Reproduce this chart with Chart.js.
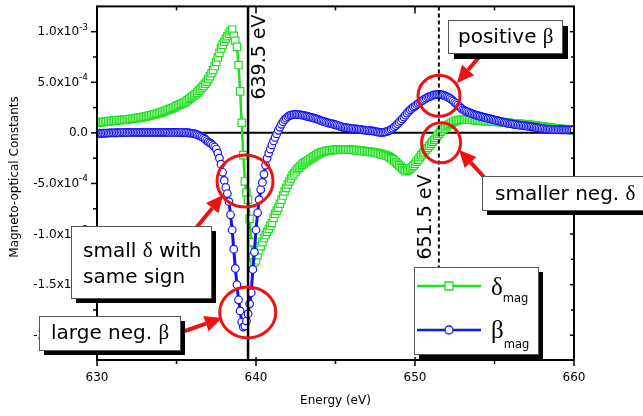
<!DOCTYPE html>
<html>
<head>
<meta charset="utf-8">
<script src="https://cdn.jsdelivr.net/npm/chart.js@4.4.1/dist/chart.umd.min.js"></script>
<style>
  html, body { margin: 0; padding: 0; background: #fff; }
  canvas { display: block; }
</style>
</head>
<body>
<canvas id="moChart" width="643" height="416"></canvas>
<script>
// photon energy (eV)
const energy = [
  630.0,630.1,630.2,630.3,630.4,630.5,630.6,630.7,630.8,630.9,
  631.0,631.1,631.2,631.3,631.4,631.5,631.6,631.7,631.8,631.9,
  632.0,632.1,632.2,632.3,632.4,632.5,632.6,632.7,632.8,632.9,
  633.0,633.1,633.2,633.3,633.4,633.5,633.6,633.7,633.8,633.9,
  634.0,634.1,634.2,634.3,634.4,634.5,634.6,634.7,634.8,634.9,
  635.0,635.1,635.2,635.3,635.4,635.5,635.6,635.7,635.8,635.9,
  636.0,636.1,636.2,636.3,636.4,636.5,636.6,636.7,636.8,636.9,
  637.0,637.1,637.2,637.3,637.4,637.5,637.6,637.7,637.8,637.9,
  638.0,638.1,638.2,638.3,638.4,638.5,638.6,638.7,638.8,638.9,
  639.0,639.1,639.2,639.3,639.4,639.5,639.6,639.7,639.8,639.9,
  640.0,640.1,640.2,640.3,640.4,640.5,640.6,640.7,640.8,640.9,
  641.0,641.1,641.2,641.3,641.4,641.5,641.6,641.7,641.8,641.9,
  642.0,642.1,642.2,642.3,642.4,642.5,642.6,642.7,642.8,642.9,
  643.0,643.1,643.2,643.3,643.4,643.5,643.6,643.7,643.8,643.9,
  644.0,644.1,644.2,644.3,644.4,644.5,644.6,644.7,644.8,644.9,
  645.0,645.1,645.2,645.3,645.4,645.5,645.6,645.7,645.8,645.9,
  646.0,646.1,646.2,646.3,646.4,646.5,646.6,646.7,646.8,646.9,
  647.0,647.1,647.2,647.3,647.4,647.5,647.6,647.7,647.8,647.9,
  648.0,648.1,648.2,648.3,648.4,648.5,648.6,648.7,648.8,648.9,
  649.0,649.1,649.2,649.3,649.4,649.5,649.6,649.7,649.8,649.9,
  650.0,650.1,650.2,650.3,650.4,650.5,650.6,650.7,650.8,650.9,
  651.0,651.1,651.2,651.3,651.4,651.5,651.6,651.7,651.8,651.9,
  652.0,652.1,652.2,652.3,652.4,652.5,652.6,652.7,652.8,652.9,
  653.0,653.1,653.2,653.3,653.4,653.5,653.6,653.7,653.8,653.9,
  654.0,654.1,654.2,654.3,654.4,654.5,654.6,654.7,654.8,654.9,
  655.0,655.1,655.2,655.3,655.4,655.5,655.6,655.7,655.8,655.9,
  656.0,656.1,656.2,656.3,656.4,656.5,656.6,656.7,656.8,656.9,
  657.0,657.1,657.2,657.3,657.4,657.5,657.6,657.7,657.8,657.9,
  658.0,658.1,658.2,658.3,658.4,658.5,658.6,658.7,658.8,658.9,
  659.0,659.1,659.2,659.3,659.4,659.5,659.6,659.7,659.8,659.9,
  660.0
];

// delta_mag in units of 1e-4
const deltaMag = [
  1.00,1.02,1.04,1.06,1.08,1.10,1.12,1.14,1.16,1.18,
  1.20,1.21,1.23,1.24,1.26,1.27,1.29,1.30,1.32,1.33,
  1.35,1.37,1.39,1.41,1.44,1.46,1.48,1.50,1.53,1.56,
  1.60,1.63,1.67,1.71,1.75,1.79,1.83,1.87,1.91,1.95,
  2.00,2.06,2.12,2.18,2.24,2.30,2.36,2.42,2.48,2.56,
  2.65,2.72,2.79,2.86,2.93,3.00,3.10,3.22,3.35,3.48,
  3.60,3.70,3.82,3.98,4.15,4.32,4.48,4.65,4.85,5.05,
  5.30,5.60,5.90,6.20,6.60,7.00,7.45,7.90,8.35,8.70,
  9.00,9.30,9.55,9.80,10.05,10.20,9.60,9.10,8.50,6.70,
  4.10,1.00,-2.20,-4.80,-5.90,-6.60,-8.50,-10.80,-12.30,-12.80,
  -12.60,-12.10,-11.60,-11.20,-10.80,-10.40,-10.10,-9.80,-9.50,-9.20,
  -8.90,-8.40,-8.00,-7.70,-7.40,-7.00,-6.60,-6.20,-5.80,-5.45,
  -5.10,-4.80,-4.50,-4.20,-4.00,-3.80,-3.60,-3.45,-3.30,-3.15,
  -3.00,-2.90,-2.80,-2.70,-2.60,-2.50,-2.40,-2.30,-2.20,-2.10,
  -2.00,-1.95,-1.90,-1.85,-1.80,-1.77,-1.75,-1.72,-1.70,-1.68,
  -1.67,-1.66,-1.65,-1.65,-1.64,-1.64,-1.64,-1.65,-1.65,-1.66,
  -1.67,-1.68,-1.69,-1.70,-1.72,-1.74,-1.76,-1.78,-1.80,-1.82,
  -1.84,-1.86,-1.88,-1.90,-1.92,-1.95,-1.98,-2.02,-2.06,-2.10,
  -2.14,-2.19,-2.25,-2.32,-2.40,-2.50,-2.62,-2.75,-2.90,-3.05,
  -3.20,-3.35,-3.50,-3.65,-3.78,-3.75,-3.65,-3.52,-3.40,-3.25,
  -3.05,-2.85,-2.65,-2.40,-2.20,-2.00,-1.85,-1.65,-1.50,-1.30,
  -1.10,-0.90,-0.70,-0.50,-0.30,-0.10,0.10,0.25,0.40,0.55,
  0.65,0.77,0.88,0.98,1.08,1.15,1.20,1.24,1.27,1.29,
  1.30,1.31,1.31,1.31,1.30,1.29,1.28,1.27,1.26,1.25,
  1.24,1.22,1.20,1.18,1.16,1.15,1.14,1.13,1.12,1.11,
  1.10,1.09,1.08,1.07,1.06,1.05,1.04,1.03,1.01,1.00,
  0.96,0.95,0.94,0.93,0.92,0.90,0.89,0.88,0.86,0.85,
  0.83,0.81,0.79,0.77,0.75,0.73,0.71,0.69,0.67,0.65,
  0.63,0.61,0.59,0.56,0.54,0.52,0.50,0.48,0.46,0.44,
  0.42,0.40,0.39,0.37,0.36,0.34,0.32,0.30,0.28,0.26,
  0.25
];

// beta_mag in units of 1e-4
const betaMag = [
  -0.10,-0.08,-0.06,-0.05,-0.04,-0.03,-0.02,-0.02,-0.01,-0.01,
  0.00,0.00,0.01,0.01,0.02,0.02,0.03,0.03,0.03,0.04,
  0.04,0.04,0.05,0.05,0.05,0.05,0.05,0.05,0.05,0.05,
  0.05,0.05,0.05,0.05,0.05,0.05,0.05,0.05,0.05,0.05,
  0.05,0.05,0.05,0.05,0.05,0.04,0.04,0.04,0.04,0.04,
  0.04,0.04,0.03,0.03,0.03,0.03,0.02,0.01,0.00,-0.02,
  -0.05,-0.08,-0.12,-0.18,-0.25,-0.32,-0.40,-0.50,-0.62,-0.76,
  -0.90,-1.00,-1.10,-1.25,-1.40,-1.60,-2.00,-2.50,-3.10,-3.90,
  -4.70,-5.40,-6.00,-6.80,-8.10,-9.60,-11.50,-13.40,-15.00,-16.50,
  -17.60,-18.70,-19.20,-19.10,-18.60,-17.90,-16.90,-15.80,-13.50,-11.80,
  -9.60,-7.90,-6.60,-5.60,-4.90,-4.10,-3.20,-2.50,-2.00,-1.60,
  -1.20,-0.80,-0.45,-0.10,0.25,0.55,0.85,1.10,1.30,1.45,
  1.60,1.70,1.76,1.80,1.82,1.82,1.81,1.80,1.78,1.75,
  1.72,1.68,1.64,1.60,1.56,1.52,1.48,1.43,1.38,1.32,
  1.25,1.20,1.15,1.10,1.05,1.00,0.96,0.92,0.88,0.85,
  0.80,0.75,0.70,0.65,0.60,0.55,0.52,0.50,0.48,0.45,
  0.42,0.40,0.38,0.38,0.37,0.35,0.33,0.30,0.28,0.26,
  0.25,0.23,0.22,0.20,0.17,0.14,0.10,0.07,0.05,0.04,
  0.05,0.08,0.12,0.18,0.25,0.35,0.45,0.58,0.72,0.88,
  1.05,1.20,1.38,1.56,1.75,1.95,2.12,2.28,2.42,2.55,
  2.65,2.78,2.90,3.02,3.13,3.23,3.33,3.43,3.52,3.58,
  3.64,3.70,3.75,3.78,3.80,3.80,3.79,3.76,3.72,3.66,
  3.58,3.50,3.40,3.28,3.15,3.02,2.90,2.75,2.60,2.45,
  2.30,2.22,2.15,2.08,2.01,1.95,1.89,1.83,1.78,1.73,
  1.68,1.64,1.60,1.56,1.52,1.48,1.44,1.40,1.36,1.32,
  1.28,1.24,1.20,1.16,1.12,1.08,1.04,1.00,0.97,0.94,
  0.91,0.88,0.85,0.82,0.80,0.78,0.76,0.74,0.72,0.70,
  0.68,0.66,0.64,0.62,0.60,0.57,0.54,0.51,0.48,0.45,
  0.42,0.40,0.38,0.36,0.35,0.34,0.33,0.32,0.32,0.31,
  0.31,0.31,0.30,0.30,0.30,0.30,0.30,0.30,0.30,0.30,
  0.30
];

// axis ticks (y in units of 1e-4)
const xMajor = [630, 640, 650, 660];
const xMinor = [635, 645, 655];
const yMajor = [10, 5, 0, -5, -10, -15, -20];
const yMinor = [7.5, 2.5, -2.5, -7.5, -12.5, -17.5];
const yMantissa = ['1.0x10', '5.0x10', '0.0', '-5.0x10', '-1.0x10', '-1.5x10', '-2.0x10'];
const yExponent = ['-3', '-4', '', '-4', '-3', '-3', '-3'];

// absorption edge markers (eV)
const edgeSolid = 639.5;
const edgeDashed = 651.5;

const SANS = '"DejaVu Sans", Verdana, sans-serif';
const SERIF = '"Liberation Serif", "DejaVu Serif", serif';
const RED = '#ee1111';
const GREEN = '#1fe01f';
const BLUE = '#1414f0';

function toPoints(ys) {
  return energy.map((e, i) => ({ x: e, y: ys[i] }));
}

// draw text pieces one after another, each with its own font / vertical shift
function textRuns(ctx, x, y, parts) {
  parts.forEach(p => {
    ctx.font = p.font;
    ctx.fillText(p.text, x, y + (p.dy || 0));
    x += ctx.measureText(p.text).width;
  });
}

function shadowBox(ctx, x, y, w, h, off) {
  ctx.fillStyle = '#000';
  ctx.fillRect(x + off, y + off, w, h);
  ctx.fillStyle = '#fff';
  ctx.fillRect(x, y, w, h);
  ctx.strokeStyle = '#555';
  ctx.lineWidth = 1;
  ctx.strokeRect(x + 0.5, y + 0.5, w, h);
}

function arrow(ctx, x0, y0, x1, y1) {
  const a = Math.atan2(y1 - y0, x1 - x0);
  const head = 17, half = 8;
  const bx = x1 - head * Math.cos(a), by = y1 - head * Math.sin(a);
  ctx.strokeStyle = RED;
  ctx.lineWidth = 4;
  ctx.beginPath();
  ctx.moveTo(x0, y0);
  ctx.lineTo(bx, by);
  ctx.stroke();
  ctx.fillStyle = RED;
  ctx.beginPath();
  ctx.moveTo(x1, y1);
  ctx.lineTo(bx + half * Math.sin(a), by - half * Math.cos(a));
  ctx.lineTo(bx - half * Math.sin(a), by + half * Math.cos(a));
  ctx.closePath();
  ctx.fill();
}

function ring(ctx, cx, cy, rx, ry) {
  ctx.strokeStyle = RED;
  ctx.lineWidth = 3;
  ctx.beginPath();
  ctx.ellipse(cx, cy, rx, ry, 0, 0, 2 * Math.PI);
  ctx.stroke();
}

const decorations = {
  id: 'decorations',
  beforeDatasetsDraw(chart) {
    const { ctx, chartArea: a, scales: { y } } = chart;
    const y0 = y.getPixelForValue(0);
    ctx.save();
    ctx.strokeStyle = '#000';
    ctx.lineWidth = 2;
    ctx.beginPath();
    ctx.moveTo(a.left, y0);
    ctx.lineTo(a.right, y0);
    ctx.stroke();
    ctx.restore();
  },
  afterDatasetsDraw(chart) {
    const { ctx, chartArea: a, scales: { x, y } } = chart;
    ctx.save();
    ctx.strokeStyle = '#000';

    // edge lines
    ctx.lineWidth = 2.5;
    let xe = x.getPixelForValue(edgeSolid);
    ctx.beginPath(); ctx.moveTo(xe, a.top); ctx.lineTo(xe, a.bottom); ctx.stroke();
    ctx.lineWidth = 2;
    ctx.setLineDash([4, 3]);
    xe = x.getPixelForValue(edgeDashed);
    ctx.beginPath(); ctx.moveTo(xe, a.top); ctx.lineTo(xe, a.bottom); ctx.stroke();
    ctx.setLineDash([]);

    // frame
    ctx.lineWidth = 2;
    ctx.strokeRect(a.left, a.top, a.right - a.left, a.bottom - a.top);

    // ticks
    ctx.lineWidth = 1.5;
    const tick = (x0, y0, x1, y1) => { ctx.beginPath(); ctx.moveTo(x0, y0); ctx.lineTo(x1, y1); ctx.stroke(); };
    xMajor.forEach(v => {
      const p = x.getPixelForValue(v);
      tick(p, a.bottom - 3, p, a.bottom + 6);
      tick(p, a.top, p, a.top + 7);
    });
    xMinor.forEach(v => {
      const p = x.getPixelForValue(v);
      tick(p, a.bottom, p, a.bottom + 4);
      tick(p, a.top, p, a.top + 4);
    });
    yMajor.forEach(v => {
      const p = y.getPixelForValue(v);
      tick(a.left - 6, p, a.left, p);
      tick(a.right - 4, p, a.right, p);
    });
    yMinor.forEach(v => {
      const p = y.getPixelForValue(v);
      tick(a.left - 4, p, a.left, p);
      tick(a.right - 3, p, a.right, p);
    });
    ctx.restore();
  },
  afterDraw(chart) {
    const { ctx, chartArea: a, scales: { x, y } } = chart;
    ctx.save();
    ctx.fillStyle = '#000';

    // tick labels
    ctx.textBaseline = 'middle';
    ctx.textAlign = 'center';
    ctx.font = '12px ' + SANS;
    xMajor.forEach(v => ctx.fillText(String(v), x.getPixelForValue(v), a.bottom + 18));
    yMajor.forEach((v, i) => {
      const p = y.getPixelForValue(v) + 0.5;
      const right = a.left - 9;
      ctx.font = '9px ' + SANS;
      const ew = yExponent[i] ? ctx.measureText(yExponent[i]).width : 0;
      ctx.textAlign = 'left';
      if (ew) ctx.fillText(yExponent[i], right - ew, p - 5);
      ctx.font = '12px ' + SANS;
      ctx.textAlign = 'right';
      ctx.fillText(yMantissa[i], right - ew, p);
    });

    // axis titles
    ctx.textAlign = 'center';
    ctx.font = '12px ' + SANS;
    ctx.fillText('Energy (eV)', (a.left + a.right) / 2, 401);
    ctx.save();
    ctx.translate(15, 177);
    ctx.rotate(-Math.PI / 2);
    ctx.fillText('Magneto-optical Constants', 0, 0);
    ctx.restore();

    // edge energy labels
    ctx.font = '19px ' + SANS;
    [[edgeSolid, 12, 57], [edgeDashed, -13, 217]].forEach(([e, dx, cy]) => {
      ctx.save();
      ctx.translate(x.getPixelForValue(e) + dx, cy);
      ctx.rotate(-Math.PI / 2);
      ctx.fillText(e.toFixed(1) + ' eV', 0, 0);
      ctx.restore();
    });

    // highlight rings
    ring(ctx, x.getPixelForValue(639.31), y.getPixelForValue(-4.75), 28, 26);
    ring(ctx, x.getPixelForValue(639.48), y.getPixelForValue(-17.75), 28, 25.5);
    ring(ctx, x.getPixelForValue(651.51), y.getPixelForValue(3.66), 21, 20.5);
    ring(ctx, x.getPixelForValue(651.64), y.getPixelForValue(-0.98), 19.5, 20);

    // arrows
    arrow(ctx, 480, 56, 457, 83);
    arrow(ctx, 484, 177, 459, 150);
    arrow(ctx, 196, 228, 223, 195);
    arrow(ctx, 182, 332, 222, 318);

    // callout boxes
    ctx.textAlign = 'left';
    ctx.textBaseline = 'alphabetic';
    shadowBox(ctx, 448, 20, 114, 33, 6);
    ctx.fillStyle = '#000';
    textRuns(ctx, 458, 43, [{ text: 'positive ', font: '20px ' + SANS }, { text: 'β', font: '21px ' + SERIF }]);

    shadowBox(ctx, 482, 176, 170, 34, 5);
    ctx.fillStyle = '#000';
    textRuns(ctx, 495, 200, [{ text: 'smaller neg. ', font: '20px ' + SANS }, { text: 'δ', font: '21px ' + SERIF }]);

    shadowBox(ctx, 71, 226, 140, 72, 5);
    ctx.fillStyle = '#000';
    textRuns(ctx, 83, 257, [
      { text: 'small ', font: '20px ' + SANS },
      { text: 'δ', font: '21px ' + SERIF },
      { text: ' with', font: '20px ' + SANS }
    ]);
    textRuns(ctx, 83, 283, [{ text: 'same sign', font: '20px ' + SANS }]);

    shadowBox(ctx, 39, 316, 141, 34, 5);
    ctx.fillStyle = '#000';
    textRuns(ctx, 51, 339, [{ text: 'large neg. ', font: '20px ' + SANS }, { text: 'β', font: '21px ' + SERIF }]);

    // legend
    shadowBox(ctx, 414, 267, 124, 87, 5);
    [[GREEN, 286, 'δ', 'rect'], [BLUE, 330, 'β', 'circle']].forEach(([col, ly, sym, style]) => {
      ctx.strokeStyle = col;
      ctx.lineWidth = 2.5;
      ctx.beginPath(); ctx.moveTo(417, ly); ctx.lineTo(481, ly); ctx.stroke();
      ctx.fillStyle = '#fff';
      ctx.lineWidth = 1.3;
      ctx.beginPath();
      if (style === 'rect') ctx.rect(445, ly - 4, 8, 8);
      else ctx.arc(449, ly, 4, 0, 2 * Math.PI);
      ctx.fill();
      ctx.stroke();
      ctx.fillStyle = '#000';
      textRuns(ctx, 491, sym === 'δ' ? 295 : 338, [
        { text: sym, font: '25px ' + SERIF },
        { text: 'mag', font: '11.5px ' + SANS, dy: sym === 'δ' ? 7 : 10 }
      ]);
    });
    ctx.restore();
  }
};

new Chart(document.getElementById('moChart'), {
  type: 'line',
  data: {
    datasets: [
      {
        label: 'δmag',
        data: toPoints(deltaMag),
        borderColor: GREEN,
        borderWidth: 2.5,
        pointStyle: 'rect',
        pointRadius: 5.2,
        pointBorderWidth: 1.2,
        pointBorderColor: GREEN,
        pointBackgroundColor: '#fff',
        tension: 0,
        order: 2
      },
      {
        label: 'βmag',
        data: toPoints(betaMag),
        borderColor: BLUE,
        borderWidth: 3,
        pointStyle: 'circle',
        pointRadius: 3.8,
        pointBorderWidth: 1.2,
        pointBorderColor: BLUE,
        pointBackgroundColor: '#fff',
        tension: 0,
        order: 1
      }
    ]
  },
  options: {
    responsive: false,
    animation: false,
    devicePixelRatio: 1,
    layout: { padding: { top: 5, right: 69, left: 0, bottom: 0 } },
    plugins: { legend: { display: false }, tooltip: { enabled: false } },
    scales: {
      x: {
        type: 'linear',
        min: 630,
        max: 660,
        grid: { display: false },
        border: { display: false },
        ticks: { display: false },
        afterFit: s => { s.height = 56; }
      },
      y: {
        min: -22.45,
        max: 12.5,
        grid: { display: false },
        border: { display: false },
        ticks: { display: false },
        afterFit: s => { s.width = 97; }
      }
    }
  },
  plugins: [decorations]
});
</script>
</body>
</html>
